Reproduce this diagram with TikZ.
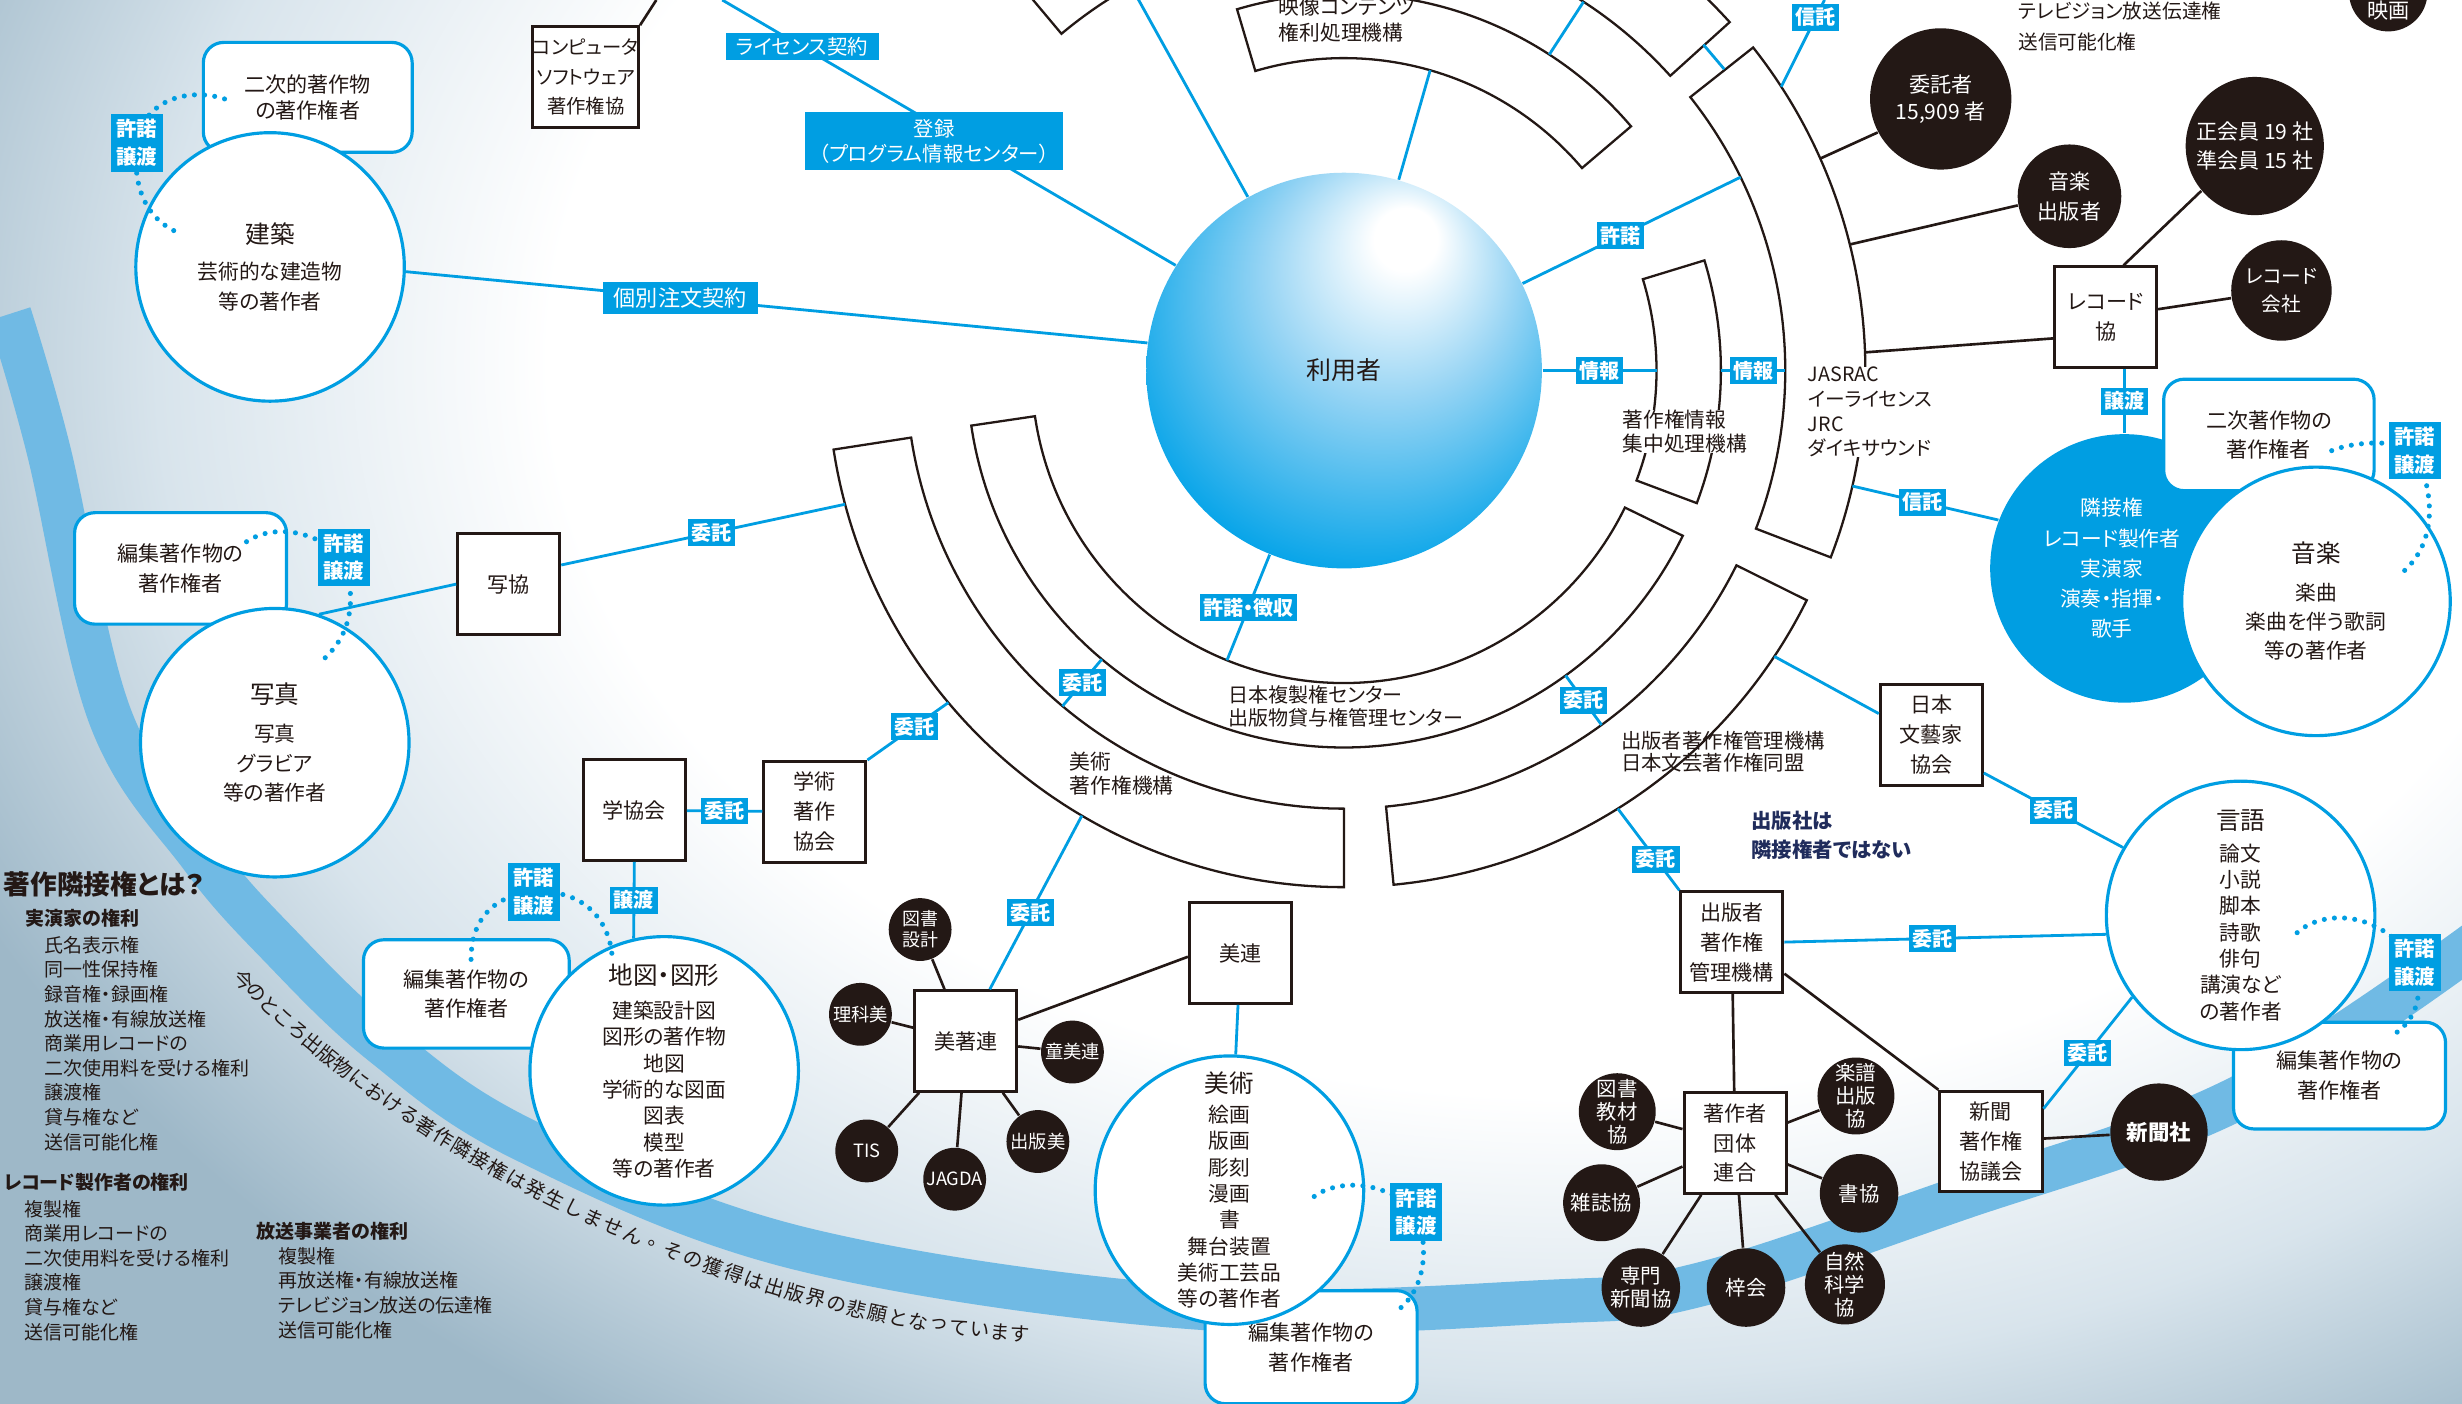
\documentclass[tikz,border=0pt]{standalone}
\usepackage{fontspec}
\setmainfont{Noto Sans CJK JP}[RawFeature={+palt}]
\usetikzlibrary{calc}

\definecolor{wblue}{RGB}{0,158,226}
\definecolor{ink}{RGB}{35,24,21}
\definecolor{navy}{RGB}{32,44,92}
\definecolor{bandblue}{RGB}{112,186,228}
\definecolor{bgmid}{RGB}{216,228,236}
\definecolor{bgedge}{RGB}{158,184,200}
\definecolor{ballmid}{RGB}{150,212,244}
\definecolor{ballblue}{RGB}{0,162,232}

\pgfdeclareradialshading{glow}{\pgfpoint{0bp}{0bp}}{color(0bp)=(white); color(13bp)=(white); color(18bp)=(bgmid); color(22.5bp)=(bgedge); color(25bp)=(bgedge); color(50bp)=(bgedge)}
\pgfdeclareradialshading{userball}{\pgfpoint{8.5bp}{18bp}}{color(0bp)=(white); color(4bp)=(white); color(16bp)=(ballmid); color(33bp)=(ballblue); color(50bp)=(ballblue)}

\newdimen\dpx \dpx=0.4467pt
\newcommand\fsz[2]{\fontsize{#1pt}{#2pt}\selectfont}
\newcommand\curvefont{\fsz{5.6}{6}}
\newcommand\ringsector[4]{%
  \draw[sector] ($(user.center)+({-(#1)}:#3)$) arc[start angle={-(#1)}, end angle={-(#2)}, radius=#3]
    -- ($(user.center)+({-(#2)}:#4)$) arc[start angle={-(#2)}, end angle={-(#1)}, radius=#4] -- cycle;}

\begin{document}
\begin{tikzpicture}[x=0.4467pt,y=-0.4467pt,
  org/.style={draw=ink,fill=white,line width=0.85pt,minimum width=65\dpx,minimum height=64\dpx,inner sep=0pt,align=center,text=ink,font=\fsz{6}{8.5}},
  work/.style={circle,draw=wblue,fill=white,line width=0.9pt,minimum size=171\dpx,inner sep=0pt,align=center,text=ink},
  owner/.style={draw=wblue,fill=white,line width=0.9pt,rounded corners=5.8pt,minimum width=134\dpx,minimum height=70\dpx,inner sep=0pt,align=center,text=ink,font=\fsz{6}{8.5}},
  member/.style={circle,fill=ink,text=white,inner sep=0pt,align=center,font=\fsz{5.8}{6.5}},
  lab/.style={fill=wblue,text=white,inner xsep=1pt,inner ysep=1.1pt,align=center,font=\bfseries\fsz{5.7}{7}},
  pairlab/.style={lab,inner xsep=1.6pt,inner ysep=1.5pt,font=\bfseries\fsz{5.8}{7.8}},
  wire/.style={wblue,line width=0.8pt},
  link/.style={ink,line width=0.75pt},
  sector/.style={draw=ink,fill=white,line width=0.65pt},
  dots/.style={wblue,line width=1.45pt,line cap=round,dash pattern=on 0pt off 2.9pt},
  txt/.style={inner sep=0pt,align=left,anchor=west,text=ink,font=\fsz{5.8}{7}},
  glowband/.style={draw=bandblue,line width=12.5pt}]
\useasboundingbox (0,0) rectangle (1568,894);
\clip (0,0) rectangle (1568,894);

\shade[shading=glow] (-250,-670) rectangle (2250,1130);
\draw[glowband] plot[smooth,tension=0.6] coordinates {(6,200) (31,287) (70,456) (128,545) (178,602) (244,665) (334,726) (509,795) (765,833) (987,829) (1083,818) (1246,764) (1424,700) (1580,598)};
\foreach \c [count=\i] in {今,の,と,こ,ろ,出,版,物,に,お,け,る,著,作,隣,接,権,は,発,生,し,ま,せ,ん,。,そ,の,獲,得,は,出,版,界,の,悲,願,と,な,っ,て,い,ま,す}{
  \pgfmathsetmacro\t{(\i-0.5)/43}
  \path (151,620) .. controls (265,739) and (474,839) .. (656,850) node[pos=\t,sloped,inner sep=0pt,text=ink,font=\curvefont] (cv\i) {\c};
}

\node[circle,shade,shading=userball,minimum size=252\dpx,inner sep=0pt,text=ink,font=\fsz{7.1}{8}] (user) at (856,236) {利用者};

\ringsector{106.5}{40.4}{199}{240}
\ringsector{130}{42.1}{280}{331}
\ringsector{38.3}{-21}{281}{332}
\ringsector{17}{-20.6}{199}{240}
\ringsector{188.4}{334}{199}{240}
\ringsector{188.8}{270}{279}{329}
\ringsector{275.5}{333.6}{279}{329}

\coordinate (topA) at (460,0);
\draw[wire] (topA) -- node[lab,pos=.176,inner xsep=3pt,font=\fsz{5.8}{7}] (lbLic) {ライセンス契約} (user.148);
\node[lab,minimum width=164\dpx,minimum height=37\dpx,font=\fsz{5.8}{7.2}] (toroku) at (595,90) {登録\\（プログラム情報センター）};

\node[owner,minimum width=133\dpx,font=\fsz{6}{7.6}] (nijiA) at (196,62) {二次的著作物\\の著作権者};
\node[owner,minimum width=135\dpx,minimum height=71\dpx] (henA) at (115,362) {編集著作物の\\著作権者};
\node[owner,minimum width=131\dpx,minimum height=69\dpx] (henB) at (297,633) {編集著作物の\\著作権者};
\node[owner,minimum width=135\dpx,minimum height=72\dpx] (henC) at (835,858) {編集著作物の\\著作権者};
\node[owner,minimum width=135\dpx,minimum height=68\dpx] (henD) at (1490,685) {編集著作物の\\著作権者};
\node[circle,fill=wblue,minimum size=171\dpx,inner sep=0pt] (rinsetsu) at (1353,362) {};
\node[inner sep=0pt,align=center,text=white,font=\fsz{5.9}{8.6}] (rinsetsuTxt) at (1345,362) {隣接権\\レコード製作者\\実演家\\演奏・指揮・\\歌手};
\node[owner,minimum width=134\dpx,minimum height=71\dpx] (nijiB) at (1445,277) {二次著作物の\\著作権者};

\node[work,font=\fsz{5.9}{8.5}] (kenchiku) at (172,170) {{\fsz{7}{8.5}建築}\\[1.8pt]芸術的な建造物\\等の著作者};
\node[work,font=\fsz{5.9}{8.5}] (shashin) at (175,473) {{\fsz{7}{8.5}写真}\\[2.2pt]写真\\グラビア\\等の著作者};
\node[work,font=\fsz{5.9}{7.5}] (chizu) at (423,682) {{\fsz{7}{7.5}地図・図形}\\[2.3pt]建築設計図\\図形の著作物\\地図\\学術的な図面\\図表\\模型\\等の著作者};
\node[work,font=\fsz{5.9}{7.5}] (bijutsu) at (783,758) {{\fsz{7}{7.5}美術}\\[1pt]絵画\\版画\\彫刻\\漫画\\書\\舞台装置\\美術工芸品\\等の著作者};
\node[work,font=\fsz{5.9}{7.5}] (gengo) at (1427,583) {{\fsz{7}{7.5}言語}\\[1.4pt]論文\\小説\\脚本\\詩歌\\俳句\\講演など\\の著作者};
\node[work,font=\fsz{5.9}{8.3}] (ongaku) at (1475,383) {{\fsz{7}{8.3}音楽}\\[2.4pt]楽曲\\楽曲を伴う歌詞\\等の著作者};

\node[org,font=\fsz{5.5}{8.5}] (comp) at (373,49) {コンピュータ\\ソフトウェア\\著作権協};
\node[org] (shakyo) at (324,372) {写協};
\node[org] (gakkyo) at (404,516) {学協会};
\node[org] (gakujutsu) at (519,517) {学術\\著作\\協会};
\node[org] (bichoren) at (615,663) {美著連};
\node[org] (biren) at (790,607) {美連};
\node[org] (bungei) at (1230,468) {日本\\文藝家\\協会};
\node[org] (shupan) at (1103,600) {出版者\\著作権\\管理機構};
\node[org] (chosakusha) at (1105,728) {著作者\\団体\\連合};
\node[org] (shinbunkyo) at (1268,727) {新聞\\著作権\\協議会};
\node[org] (reckyo) at (1341,202) {レコード\\協};

\node[member,minimum size=90\dpx,font=\fsz{6}{7.6}] (itaku) at (1236,63) {委託者\\15,909 者};
\node[member,minimum size=66\dpx,font=\fsz{6}{8.5}] (onpub) at (1318,125) {音楽\\出版者};
\node[member,minimum size=88\dpx,font=\fsz{6}{8.5}] (seikai) at (1436,93) {正会員 19 社\\準会員 15 社};
\node[member,minimum size=64\dpx,font=\fsz{5.6}{8}] (reccom) at (1453,185) {レコード\\会社};
\node[member,minimum size=50\dpx] (eiga) at (1521,-5) {};
\node[text=white,inner sep=0pt,font=\fsz{6}{7}] (eigaTxt) at (1521,7) {映画};
\node[member,minimum size=62\dpx,font=\bfseries\fsz{6.1}{7}] (shinbunsha) at (1375,721) {新聞社};
\node[member,minimum size=40\dpx,font=\fsz{5.1}{6}] (zusho) at (586,592) {図書\\設計};
\node[member,minimum size=40\dpx,font=\fsz{5.2}{6}] (rika) at (548,646) {理科美};
\node[member,minimum size=40\dpx,font=\fsz{5.2}{6}] (doubi) at (683,670) {童美連};
\node[member,minimum size=40\dpx,font=\fsz{5.2}{6}] (shupanbi) at (661,727) {出版美};
\node[member,minimum size=40\dpx,font=\fsz{5.2}{6}] (jagda) at (608,751) {JAGDA};
\node[member,minimum size=40\dpx,font=\fsz{5.2}{6}] (tis) at (552,733) {TIS};
\node[member,minimum size=49\dpx] (kyozai) at (1030,708) {図書\\教材\\協};
\node[member,minimum size=49\dpx] (gakufu) at (1182,698) {楽譜\\出版\\協};
\node[member,minimum size=49\dpx] (zasshi) at (1020,766) {雑誌協};
\node[member,minimum size=50\dpx] (shokyo) at (1184,760) {書協};
\node[member,minimum size=50\dpx] (senmon) at (1045,820) {専門\\新聞協};
\node[member,minimum size=50\dpx] (azusa) at (1112,820) {梓会};
\node[member,minimum size=51\dpx] (shizen) at (1175,818) {自然\\科学\\協};

\node[txt,font=\fsz{5.9}{7.6}] (tEizo) at (814,12.5) {映像コンテンツ\\権利処理機構};
\node[txt,fill=white,font=\fsz{5.9}{6.7}] (tJoho) at (1033,275) {著作権情報\\集中処理機構};
\node[txt,fill=white,font=\fsz{5.6}{7}] (tJasrac) at (1151,262.5) {JASRAC\\イーライセンス\\JRC\\ダイキサウンド};
\node[txt,fill=white,font=\fsz{5.7}{6.4}] (tFukusei) at (782,450) {日本複製権センター\\出版物貸与権管理センター};
\node[txt,font=\fsz{5.9}{6.8}] (tBijutsuOrg) at (681,492.5) {美術\\著作権機構};
\node[txt,font=\fsz{5.8}{6.3}] (tShupanOrg) at (1032,479) {出版者著作権管理機構\\日本文芸著作権同盟};
\node[txt,text=navy,font=\bfseries\fsz{5.8}{8}] (tNote) at (1115,532) {出版社は\\隣接権者ではない};
\node[txt,font=\fsz{5.6}{8.7}] (tTv) at (1285,17) {テレビジョン放送伝達権\\送信可能化権};

\node[txt,font=\bfseries\fsz{7.6}{8}] (tHead) at (2,563) {著作隣接権とは？};
\node[txt,font=\bfseries\fsz{5.4}{7}] (tPerfHead) at (16,585) {実演家の権利};
\node[txt,font=\fsz{5.4}{7}] (tPerf) at (28,664.5) {氏名表示権\\同一性保持権\\録音権・録画権\\放送権・有線放送権\\商業用レコードの\\二次使用料を受ける権利\\譲渡権\\貸与権など\\送信可能化権};
\node[txt,font=\bfseries\fsz{5.4}{7}] (tRecHead) at (2,753) {レコード製作者の権利};
\node[txt,font=\fsz{5.4}{7}] (tRec) at (15,809) {複製権\\商業用レコードの\\二次使用料を受ける権利\\譲渡権\\貸与権など\\送信可能化権};
\node[txt,font=\bfseries\fsz{5.4}{7}] (tBcHead) at (163,784) {放送事業者の権利};
\node[txt,font=\fsz{5.4}{7}] (tBc) at (177,823.5) {複製権\\再放送権・有線放送権\\テレビジョン放送の伝達権\\送信可能化権};

\coordinate (rA) at ($(user.center)+(-26:281)$);
\coordinate (rB) at ($(user.center)+(0:199)$);
\coordinate (rC) at ($(user.center)+(0:240)$);
\coordinate (rD) at ($(user.center)+(0:281)$);
\coordinate (rE) at ($(user.center)+(112:199)$);
\coordinate (rF) at ($(user.center)+(-74:199)$);
\coordinate (rG) at ($(user.center)+(-57:240)$);
\coordinate (rH) at ($(user.center)+(-57:280)$);
\coordinate (rI) at ($(user.center)+(-119:280)$);
\coordinate (rJ) at ($(user.center)+(-38.4:309)$);
\coordinate (rK) at ($(user.center)+(-42.2:309)$);
\coordinate (rL) at ($(user.center)+(-33:332)$);
\coordinate (rM) at ($(user.center)+(-24:332)$);
\coordinate (rN) at ($(user.center)+(-14:332)$);
\coordinate (rO) at ($(user.center)+(-2:332)$);
\coordinate (rP) at ($(user.center)+(12.8:332)$);
\coordinate (rQ) at ($(user.center)+(33.6:329)$);
\coordinate (rR) at ($(user.center)+(58:329)$);
\coordinate (rS) at ($(user.center)+(54:240)$);
\coordinate (rT) at ($(user.center)+(54:279)$);
\coordinate (rU) at ($(user.center)+(130:240)$);
\coordinate (rV) at ($(user.center)+(130:279)$);
\coordinate (rW) at ($(user.center)+(120.5:329)$);
\coordinate (rX) at ($(user.center)+(140:329)$);
\coordinate (rY) at ($(user.center)+(165:329)$);
\coordinate (topD) at (1162,0);
\coordinate (topE) at (418,0);

\draw[wire] (user.119) -- (rI);
\draw[wire] (user.74) -- (rF);
\draw[wire] (rG) -- (rH);
\draw[wire] (rJ) -- (rK);
\draw[wire] (rL) -- (topD) node[lab,pos=.8] (lbShinA) {信託};
\draw[wire] (kenchiku.-2) -- node[lab,pos=.37,inner xsep=3.2pt,inner ysep=1.6pt,font=\fsz{6.3}{7}] (lbKobetsu) {個別注文契約} (user.172);
\draw[wire] (user.26) -- node[lab,pos=.45] (lbKyoA) {許諾} (rA);
\draw[wire] (user.0) -- node[lab] (lbJoA) {情報} (rB);
\draw[wire] (rC) -- node[lab] (lbJoB) {情報} (rD);
\draw[wire] (user.-112) -- node[lab] (lbChoshu) {許諾・徴収} (rE);
\draw[wire] (rU) -- node[lab] (lbItA) {委託} (rV);
\draw[wire] (rS) -- node[lab] (lbItB) {委託} (rT);
\draw[wire] (rY) -- node[lab,pos=.47] (lbItC) {委託} (shakyo.20);
\draw[wire] (shashin.71) -- (shakyo.west);
\draw[wire] (gakkyo) -- node[lab] (lbItD) {委託} (gakujutsu);
\draw[wire] (rX) -- node[lab,pos=.42] (lbItE) {委託} (gakujutsu.north east);
\draw[wire] (gakkyo.south) -- node[lab] (lbJotoA) {譲渡} (chizu.103);
\draw[wire] (rW) -- node[lab,pos=.56] (lbItF) {委託} (bichoren.65);
\draw[wire] (biren) -- (bijutsu);
\draw[wire] (rQ) -- (bungei.158);
\draw[wire] (bungei.-36) -- node[lab] (lbItG) {委託} (gengo.150);
\draw[wire] (rR) -- node[lab,pos=.62] (lbItH) {委託} (shupan.north west);
\draw[wire] (shupan.east) -- node[lab,pos=.46] (lbItI) {委託} (gengo.188);
\draw[wire] (shinbunkyo.32) -- node[lab] (lbItJ) {委託} (gengo.217);
\draw[wire] (rP) -- node[lab,pos=.48] (lbShinB) {信託} (rinsetsu.159);
\draw[wire] (reckyo.south -| rinsetsu.north) -- node[lab] (lbJotoB) {譲渡} (rinsetsu.north);

\draw[link] (comp.north east) -- (topE);
\draw[link] (rM) -- (itaku.208);
\draw[link] (rN) -- (onpub.190);
\draw[link] (rO) -- (reckyo.202);
\draw[link] (reckyo.71) -- (seikai.220);
\draw[link] (reckyo) -- (reccom);
\draw[link] (bichoren.22) -- (biren.184);
\foreach \m in {zusho,rika,doubi,shupanbi,jagda,tis}
  \draw[link] (bichoren) -- (\m);
\draw[link] (shupan) -- (chosakusha);
\draw[link] (shupan.-31) -- (shinbunkyo.north west);
\draw[link] (shinbunkyo) -- (shinbunsha);
\foreach \m in {kyozai,gakufu,zasshi,shokyo,senmon,azusa,shizen}
  \draw[link] (chosakusha) -- (\m);

\coordinate (kenLab) at (87,91);
\coordinate (shaLab) at (219,355);
\coordinate (chiLab) at (340,568);
\coordinate (bijLab) at (902,772);
\coordinate (genLab) at (1538,613);
\coordinate (onLab) at (1538,287);
\coordinate (kd1) at (143,63);
\coordinate (kd2) at (113,148);
\coordinate (sd1) at (157,345);
\coordinate (sd2) at (207,419);
\coordinate (cd1) at (300,611);
\coordinate (cd2) at (390,613);
\coordinate (bd1) at (837,762);
\coordinate (bd2) at (888,836);
\coordinate (gd1) at (1463,594);
\coordinate (gd2) at (1523,660);
\coordinate (od1) at (1485,287);
\coordinate (od2) at (1527,367);
\draw[dots] (kd1) .. controls (122,56) and (92,62) .. (kenLab) .. controls (84,122) and (95,140) .. (kd2);
\draw[dots] (sd1) .. controls (170,336) and (195,334) .. (shaLab) .. controls (228,385) and (222,405) .. (sd2);
\draw[dots] (cd1) .. controls (300,585) and (315,570) .. (chiLab) .. controls (375,566) and (390,590) .. (cd2);
\draw[dots] (bd1) .. controls (850,752) and (880,750) .. (bijLab) .. controls (912,800) and (905,825) .. (bd2);
\draw[dots] (gd1) .. controls (1478,580) and (1515,578) .. (genLab) .. controls (1545,640) and (1535,652) .. (gd2);
\draw[dots] (od1) .. controls (1500,281) and (1525,280) .. (onLab) .. controls (1553,320) and (1550,350) .. (od2);
\node[pairlab] (kenL) at (kenLab) {許諾\\譲渡};
\node[pairlab] (shaL) at (shaLab) {許諾\\譲渡};
\node[pairlab] (chiL) at (chiLab) {許諾\\譲渡};
\node[pairlab] (bijL) at (bijLab) {許諾\\譲渡};
\node[pairlab] (genL) at (genLab) {許諾\\譲渡};
\node[pairlab] (onL) at (onLab) {許諾\\譲渡};
\end{tikzpicture}
\end{document}
